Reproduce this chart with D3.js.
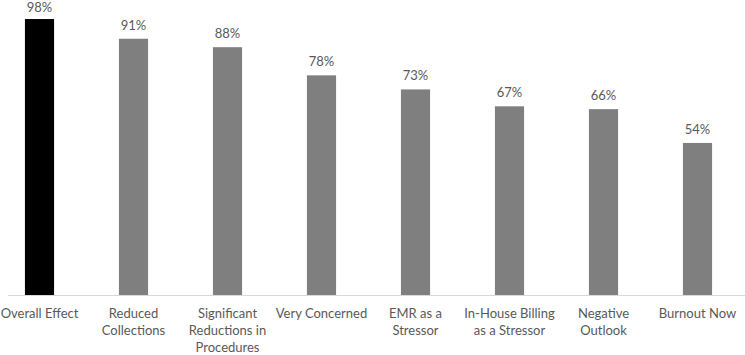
<!DOCTYPE html>
<html>
<head>
<meta charset="utf-8">
<script src="https://cdn.jsdelivr.net/npm/d3@7"></script>
<style>
  body { margin: 0; background: #fff; }
  text { font-family: Lato, "Open Sans", sans-serif; fill: #595959; }
</style>
</head>
<body>
<div id="chart"></div>
<script>
const categories = ["Overall Effect", "Reduced Collections", "Significant Reductions in Procedures", "Very Concerned",
    "EMR as a Stressor", "In-House Billing as a Stressor", "Negative Outlook", "Burnout Now"];
const labelLines = [
    ["Overall Effect"],
    ["Reduced", "Collections"],
    ["Significant", "Reductions in", "Procedures"],
    ["Very Concerned"],
    ["EMR as a", "Stressor"],
    ["In-House Billing", "as a Stressor"],
    ["Negative", "Outlook"],
    ["Burnout Now"]
];
const values = [98, 91, 88, 78, 73, 67, 66, 54];
const colors = ["#000000", "#7f7f7f", "#7f7f7f", "#7f7f7f", "#7f7f7f", "#7f7f7f", "#7f7f7f", "#7f7f7f"];

const width = 745, height = 355;

const svg = d3.select("#chart")
    .append("svg")
    .attr("width", width)
    .attr("height", height);

const x = d3.scaleBand()
    .domain(categories)
    .range([-7.5, 744.5])
    .paddingInner(0.69)
    .paddingOuter(0.345);

const y = d3.scaleLinear()
    .domain([0, 100])
    .range([295, 13.4]);

// baseline
svg.append("line")
    .attr("x1", 8)
    .attr("x2", 745)
    .attr("y1", y(0) + 0.5)
    .attr("y2", y(0) + 0.5)
    .attr("stroke", "#d9d9d9")
    .attr("stroke-width", 1);

svg.selectAll(".bar")
    .data(values)
    .enter()
    .append("rect")
    .attr("class", "bar")
    .attr("x", (d, i) => x(categories[i]))
    .attr("width", x.bandwidth())
    .attr("y", d => y(d))
    .attr("height", d => y(0) - y(d))
    .attr("fill", (d, i) => colors[i]);

svg.selectAll(".value")
    .data(values)
    .enter()
    .append("text")
    .attr("class", "value")
    .attr("x", (d, i) => x(categories[i]) + x.bandwidth() / 2)
    .attr("y", d => Math.max(y(d) - 9, 12))
    .attr("text-anchor", "middle")
    .style("font-size", "13px")
    .text(d => d + "%");

const labels = svg.selectAll(".label")
    .data(labelLines)
    .enter()
    .append("text")
    .attr("class", "label")
    .attr("text-anchor", "middle")
    .style("font-size", "13px")
    .attr("transform", (d, i) => `translate(${x(categories[i]) + x.bandwidth() / 2},318)`);

labels.selectAll("tspan")
    .data(d => d)
    .enter()
    .append("tspan")
    .attr("x", 0)
    .attr("y", (d, j) => j * 17)
    .text(d => d);
</script>
</body>
</html>
